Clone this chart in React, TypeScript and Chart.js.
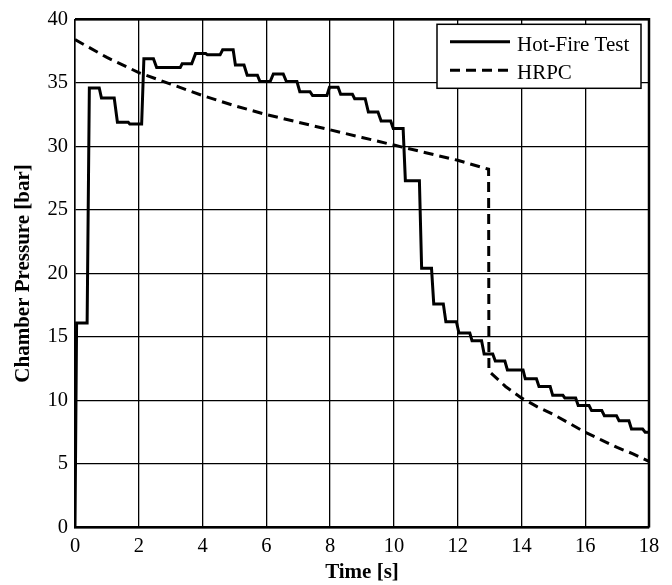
import React, { useEffect, useRef } from "react";
import { Chart, registerables } from "chart.js";

Chart.register(...registerables);

const FONT = "'Liberation Serif', 'Times New Roman', Times, serif";

const seriesLabels = ["Hot-Fire Test", "HRPC"];
const xTitle = "Time [s]";
const yTitle = "Chamber Pressure [bar]";
const xTicks = [0, 2, 4, 6, 8, 10, 12, 14, 16, 18];
const yTicks = [0, 5, 10, 15, 20, 25, 30, 35, 40];

const hotFireTime = [
  0, 0.05, 0.38, 0.45, 0.76, 0.83, 1.23, 1.33, 1.67, 1.72, 2.09, 2.16, 2.46, 2.56, 3.3, 3.36, 3.66,
  3.78, 4.1, 4.15, 4.55, 4.63, 4.96, 5.03, 5.3, 5.4, 5.72, 5.8, 6.12, 6.22, 6.53, 6.63, 6.96, 7.05,
  7.37, 7.45, 7.9, 7.98, 8.25, 8.33, 8.7, 8.77, 9.1, 9.2, 9.5, 9.6, 9.9, 9.98, 10.29, 10.36, 10.8,
  10.87, 11.18, 11.25, 11.55, 11.63, 11.96, 12.04, 12.38, 12.45, 12.75, 12.83, 13.1, 13.18, 13.48,
  13.56, 14.05, 14.12, 14.47, 14.55, 14.9, 14.98, 15.3, 15.36, 15.7, 15.78, 16.12, 16.2, 16.52, 16.6,
  16.98, 17.06, 17.37, 17.45, 17.8, 17.88, 18,
];
const hotFirePressure = [
  0, 16.1, 16.1, 34.6, 34.6, 33.8, 33.8, 31.9, 31.9, 31.75, 31.75, 36.9, 36.9, 36.2, 36.2, 36.5, 36.5,
  37.3, 37.3, 37.2, 37.2, 37.6, 37.6, 36.4, 36.4, 35.6, 35.6, 35.1, 35.1, 35.7, 35.7, 35.1, 35.1, 34.3,
  34.3, 34.0, 34.0, 34.65, 34.65, 34.1, 34.1, 33.75, 33.75, 32.7, 32.7, 32.0, 32.0, 31.4, 31.4, 27.3, 27.3,
  20.4, 20.4, 17.6, 17.6, 16.2, 16.2, 15.3, 15.3, 14.7, 14.7, 13.65, 13.65, 13.1, 13.1,
  12.4, 12.4, 11.7, 11.7, 11.1, 11.1, 10.4, 10.4, 10.2, 10.2, 9.6, 9.6, 9.2, 9.2, 8.8,
  8.8, 8.4, 8.4, 7.75, 7.75, 7.5, 7.5,
];

const hrpcTime = [
  0, 1, 2, 3, 4, 5, 6, 7, 8, 9, 10, 11, 12, 12.97, 12.98, 13.5, 14, 14.5, 15, 15.5, 16, 16.5, 17, 17.5, 18,
];
const hrpcPressure = [
  38.4, 37.0, 35.8, 34.9, 34.0, 33.2, 32.5, 31.9, 31.3, 30.7, 30.1, 29.5, 28.9, 28.2, 12.3, 11.1, 10.2,
  9.5, 8.9, 8.2, 7.5, 6.9, 6.3, 5.8, 5.2,
];

const frameLegendPlugin = {
  id: "frameLegend",
  afterDatasetsDraw(chart: any) {
    const { ctx, chartArea: ca } = chart;
    ctx.save();
    ctx.strokeStyle = "#000";
    ctx.lineWidth = 2.5;
    ctx.setLineDash([]);
    ctx.beginPath();
    ctx.moveTo(ca.left, ca.top);
    ctx.lineTo(ca.right, ca.top);
    ctx.lineTo(ca.right, ca.bottom);
    ctx.stroke();

    // legend box
    const bx = ca.right - 212;
    const by = ca.top + 5;
    const bw = 204;
    const bh = 64;
    ctx.fillStyle = "#fff";
    ctx.fillRect(bx, by, bw, bh);
    ctx.lineWidth = 1.5;
    ctx.strokeRect(bx, by, bw, bh);

    const rows = [
      { lineY: by + 17.5, textY: by + 21 },
      { lineY: by + 46, textY: by + 49 },
    ];
    chart.data.datasets.forEach((ds: any, i: number) => {
      const r = rows[i];
      ctx.strokeStyle = ds.borderColor;
      ctx.lineWidth = ds.borderWidth;
      ctx.setLineDash(ds.borderDash || []);
      ctx.beginPath();
      ctx.moveTo(bx + 13, r.lineY);
      ctx.lineTo(bx + 73, r.lineY);
      ctx.stroke();
      ctx.setLineDash([]);
      ctx.fillStyle = "#000";
      ctx.font = `21px ${FONT}`;
      ctx.textBaseline = "middle";
      ctx.textAlign = "left";
      ctx.fillText(ds.label, bx + 80, r.textY);
    });
    ctx.restore();
  },
};

export default function App() {
  const canvasRef = useRef<HTMLCanvasElement | null>(null);

  useEffect(() => {
    const canvas = canvasRef.current;
    if (!canvas) return;
    const chart = new Chart(canvas, {
      type: "line",
      data: {
        datasets: [
          {
            label: seriesLabels[0],
            data: hotFireTime.map((t, i) => ({ x: t, y: hotFirePressure[i] })),
            borderColor: "#000",
            borderWidth: 3,
            pointRadius: 0,
            fill: false,
            tension: 0,
          },
          {
            label: seriesLabels[1],
            data: hrpcTime.map((t, i) => ({ x: t, y: hrpcPressure[i] })),
            borderColor: "#000",
            borderWidth: 3,
            borderDash: [10, 6],
            pointRadius: 0,
            fill: false,
            tension: 0,
          },
        ],
      },
      options: {
        responsive: false,
        animation: false,
        devicePixelRatio: 1,
        layout: { padding: { top: 14, right: 23, left: 0, bottom: 0 } },
        plugins: {
          legend: { display: false },
          tooltip: { enabled: false },
        },
        scales: {
          x: {
            type: "linear",
            min: 0,
            max: 18,
            afterBuildTicks: (scale: any) => {
              scale.ticks = xTicks.map((v) => ({ value: v }));
            },
            afterFit: (scale: any) => {
              scale.height = 57.5;
            },
            ticks: {
              color: "#000",
              font: { family: FONT, size: 20.5 },
              padding: 6.5,
              maxRotation: 0,
              autoSkip: false,
            },
            grid: { color: "#000", lineWidth: 1.3, drawTicks: false },
            border: { display: true, color: "#000", width: 2.5 },
            title: {
              display: true,
              text: xTitle,
              color: "#000",
              font: { family: FONT, size: 21, weight: "bold", lineHeight: 1.14 },
              padding: { top: 0, bottom: 0 },
            },
          },
          y: {
            type: "linear",
            min: 0,
            max: 40,
            afterBuildTicks: (scale: any) => {
              scale.ticks = yTicks.map((v) => ({ value: v }));
            },
            afterFit: (scale: any) => {
              scale.width = 75;
            },
            ticks: {
              color: "#000",
              font: { family: FONT, size: 20.5 },
              padding: 7,
              autoSkip: false,
            },
            grid: { color: "#000", lineWidth: 1.3, drawTicks: false },
            border: { display: true, color: "#000", width: 1.5 },
            title: {
              display: true,
              text: yTitle,
              color: "#000",
              font: { family: FONT, size: 21, weight: "bold", lineHeight: 1.2 },
              padding: { top: 11.4, bottom: 0 },
            },
          },
        },
      },
      plugins: [frameLegendPlugin],
    });
    return () => chart.destroy();
  }, []);

  return (
    <div style={{ position: "fixed", left: 0, top: 0, width: 672, height: 585, background: "#fff" }}>
      <canvas ref={canvasRef} width={672} height={585} style={{ display: "block", width: 672, height: 585 }} />
    </div>
  );
}
